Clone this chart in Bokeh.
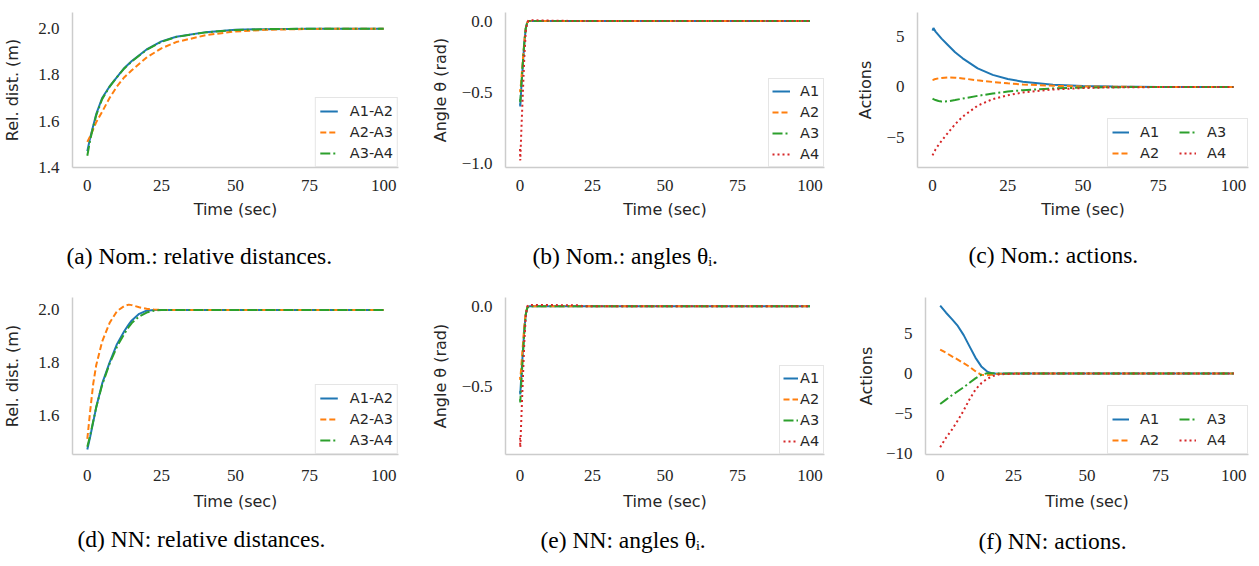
from bokeh.plotting import figure
from bokeh.models import Range1d, FixedTicker, CustomJSTickFormatter, Legend, LegendItem, Title
from bokeh.layouts import row, column
from bokeh.embed import file_html
from bokeh.resources import INLINE

# ---------------- data ----------------
x_ticks = [0, 25, 50, 75, 100]

# (a) nominal: relative distances
t_nom_dist = [0, 1, 2, 3, 5, 7.5, 10, 12.5, 15, 20, 25, 30, 40, 50, 60, 75, 100]
nom_d12 = [1.47, 1.53, 1.58, 1.63, 1.70, 1.75, 1.79, 1.83, 1.86, 1.91, 1.945, 1.965, 1.985, 1.995, 1.998, 2.0, 2.0]
nom_d23 = [1.51, 1.535, 1.565, 1.595, 1.64, 1.70, 1.75, 1.79, 1.82, 1.875, 1.915, 1.942, 1.972, 1.988, 1.995, 1.999, 2.0]
nom_d34 = [1.45, 1.52, 1.575, 1.625, 1.695, 1.748, 1.79, 1.828, 1.858, 1.908, 1.943, 1.964, 1.984, 1.994, 1.998, 2.0, 2.0]

# (b) nominal: angles
t_nom_ang = [0, 0.1, 0.5, 1.0, 1.5, 2.0, 2.5, 3, 5, 10, 20, 50, 100]
nom_th1 = [-0.58, -0.60, -0.45, -0.30, -0.15, -0.05, -0.01, 0.0, 0.0, 0.0, 0.0, 0.0, 0.0]
nom_th2 = [-0.48, -0.50, -0.40, -0.27, -0.14, -0.05, -0.01, 0.0, 0.0, 0.0, 0.0, 0.0, 0.0]
nom_th3 = [-0.55, -0.57, -0.44, -0.29, -0.15, -0.05, -0.01, 0.0, 0.0, 0.0, 0.0, 0.0, 0.0]
nom_th4 = [-0.90, -0.98, -0.75, -0.50, -0.25, -0.07, -0.01, 0.005, 0.005, 0.003, 0.0, 0.0, 0.0]

# (c) nominal: actions
t_nom_act = [0, 0.3, 1, 2, 3, 5, 7.5, 10, 15, 20, 25, 30, 40, 50, 60, 75, 100]
nom_u1 = [5.6, 5.85, 5.5, 5.15, 4.8, 4.2, 3.45, 2.85, 1.85, 1.2, 0.8, 0.52, 0.22, 0.09, 0.04, 0.01, 0.0]
nom_u2 = [0.7, 0.72, 0.8, 0.86, 0.9, 0.95, 0.92, 0.85, 0.66, 0.5, 0.36, 0.25, 0.12, 0.05, 0.02, 0.0, 0.0]
nom_u3 = [-1.15, -1.2, -1.3, -1.4, -1.45, -1.42, -1.3, -1.15, -0.88, -0.65, -0.46, -0.32, -0.15, -0.06, -0.02, 0.0, 0.0]
nom_u4 = [-6.8, -6.6, -6.2, -5.75, -5.35, -4.6, -3.7, -2.95, -1.85, -1.2, -0.82, -0.55, -0.25, -0.1, -0.04, -0.01, 0.0]

# (d) NN: relative distances
t_nn_dist = [0, 1, 2, 3, 5, 7.5, 10, 12.5, 14, 15, 17.5, 20, 22.5, 25, 30, 50, 100]
nn_d12 = [1.47, 1.52, 1.575, 1.63, 1.72, 1.80, 1.87, 1.92, 1.945, 1.96, 1.985, 1.997, 2.0, 2.0, 2.0, 2.0, 2.0]
nn_d23 = [1.51, 1.62, 1.72, 1.79, 1.88, 1.95, 1.995, 2.015, 2.02, 2.018, 2.01, 2.004, 2.001, 2.0, 2.0, 2.0, 2.0]
nn_d34 = [1.48, 1.525, 1.578, 1.63, 1.715, 1.795, 1.86, 1.91, 1.935, 1.95, 1.975, 1.99, 1.997, 2.0, 2.0, 2.0, 2.0]

# (e) NN: angles
t_nn_ang = [0, 0.1, 0.5, 1.0, 1.5, 2.0, 2.5, 3, 5, 10, 20, 22, 50, 100]
nn_th1 = [-0.53, -0.55, -0.42, -0.28, -0.14, -0.05, -0.01, 0.0, 0.0, 0.0, 0.0, 0.0, 0.0, 0.0]
nn_th2 = [-0.44, -0.46, -0.36, -0.24, -0.12, -0.04, -0.01, 0.0, 0.0, 0.0, 0.0, 0.0, 0.0, 0.0]
nn_th3 = [-0.58, -0.60, -0.46, -0.31, -0.16, -0.05, -0.01, 0.0, 0.0, 0.0, 0.0, 0.0, 0.0, 0.0]
nn_th4 = [-0.82, -0.88, -0.68, -0.45, -0.22, -0.06, 0.0, 0.008, 0.008, 0.008, 0.006, 0.0, 0.0, 0.0]

# (f) NN: actions
t_nn_act = [0, 2, 4, 6, 8, 10, 12, 14, 16, 18, 20, 25, 30, 50, 100]
nn_u1 = [8.5, 7.6, 6.8, 5.95, 4.8, 3.4, 2.0, 0.9, 0.25, 0.0, -0.02, 0.0, 0.0, 0.0, 0.0]
nn_u2 = [3.0, 2.6, 2.15, 1.75, 1.3, 0.85, 0.3, -0.15, -0.2, -0.1, -0.03, 0.0, 0.0, 0.0, 0.0]
nn_u3 = [-3.8, -3.25, -2.7, -2.2, -1.7, -1.15, -0.6, -0.15, 0.05, 0.05, 0.02, 0.0, 0.0, 0.0, 0.0]
nn_u4 = [-9.2, -8.0, -7.0, -5.85, -4.6, -3.2, -2.0, -1.2, -0.65, -0.3, -0.1, -0.01, 0.0, 0.0, 0.0]

dist_labels = ["A1-A2", "A2-A3", "A3-A4"]
agent_labels = ["A1", "A2", "A3", "A4"]

# ---------------- style ----------------
COLORS = ["#1f77b4", "#ff7f0e", "#2ca02c", "#d62728"]
DASHES = ["solid", "6 3", "10 3 2 3", "2 3"]
SPINE = "#cccccc"
TXT = "#262626"
SERIF = "'Liberation Serif', serif"
SANS = "'DejaVu Sans', sans-serif"


def fmt(dec):
    return CustomJSTickFormatter(args=dict(d=dec),
                                 code="return tick.toFixed(d).replace('-', '\u2212');")


def panel(W, H, bl, br, bt, bb, yr, yticks, ydec, ylabel, ylab_so, xso, caption, cap_offset, cap_so,
          t, series, labels, leg):
    p = figure(width=W, height=H, x_range=Range1d(-5, 105), y_range=Range1d(*yr),
               output_backend="svg", toolbar_location=None,
               min_border_left=bl, min_border_right=br, min_border_top=bt, min_border_bottom=bb)
    p.xgrid.visible = False
    p.ygrid.visible = False
    p.outline_line_color = None
    p.background_fill_color = "white"
    p.border_fill_color = "white"
    for axs in (p.xaxis, p.yaxis):
        axs.major_tick_line_color = None
        axs.minor_tick_line_color = None
        axs.axis_line_color = SPINE
        axs.axis_line_width = 1.5
        axs.major_label_text_font = SERIF
        axs.major_label_text_font_size = "17px"
        axs.major_label_text_color = TXT
        axs.axis_label_text_font = SANS
        axs.axis_label_text_font_size = "16px"
        axs.axis_label_text_font_style = "normal"
        axs.axis_label_text_color = TXT
    p.xaxis.ticker = FixedTicker(ticks=x_ticks)
    p.xaxis.formatter = fmt(0)
    p.xaxis.axis_label = "Time (sec)"
    p.xaxis.major_label_standoff = xso[0]
    p.xaxis.axis_label_standoff = xso[1]
    p.yaxis.ticker = FixedTicker(ticks=yticks)
    p.yaxis.formatter = fmt(ydec)
    p.yaxis.axis_label = ylabel
    p.yaxis.major_label_standoff = 7
    p.yaxis.axis_label_standoff = ylab_so

    items = []
    for i, (ys, lab) in enumerate(zip(series, labels)):
        r = p.line(t, ys, line_color=COLORS[i], line_width=2, line_dash=DASHES[i])
        items.append(LegendItem(label=lab, renderers=[r]))
    lg = Legend(items=items, location="bottom_right", margin=0,
                ncols=leg.get("ncols", 1),
                padding=leg["padding"], spacing=leg["spacing"],
                glyph_width=leg["glyph_width"], glyph_height=18,
                label_height=18, label_width=leg.get("label_width", 20),
                label_standoff=leg["label_standoff"],
                label_text_font=SANS, label_text_font_size="14.5px",
                label_text_color=TXT,
                border_line_color="#cccccc", border_line_width=1.5,
                background_fill_color="white", background_fill_alpha=1.0)
    p.add_layout(lg)
    p.add_layout(Title(text=caption, align="left", offset=cap_offset,
                       text_font=SERIF, text_font_size="23.5px", text_font_style="normal",
                       text_color="black", standoff=cap_so), "below")
    return p


leg_dist = dict(padding=4, spacing=3, glyph_width=18, label_standoff=12)
leg_ang = dict(padding=3, spacing=3, glyph_width=18, label_standoff=10)
leg_act = dict(padding=4, spacing=3, glyph_width=17, label_standoff=11, label_width=36, ncols=2)
leg_ang2 = dict(padding=3, spacing=3, glyph_width=15, label_standoff=2)

pa = panel(420, 290, 67, 22, 11, 120, (1.399, 2.07), [1.4, 1.6, 1.8, 2.0], 1, "Rel. dist. (m)", 13, (6, 6),
           "(a) Nom.: relative distances.", -6, 39,
           t_nom_dist, [nom_d12, nom_d23, nom_d34], dist_labels, leg_dist)
pb = panel(420, 290, 85, 16, 9, 123, (-1.03, 0.06), [-1.0, -0.5, 0.0], 1, "Angle θ (rad)", 9, (6, 6),
           "(b) Nom.: angles θᵢ.", 27, 39,
           t_nom_ang, [nom_th1, nom_th2, nom_th3, nom_th4], agent_labels, leg_ang)
pc = panel(419, 290, 77, 11, 12, 119, (-8.0, 7.4), [-5, 0, 5], 0, "Actions", 8, (6, 6),
           "(c) Nom.: actions.", 51, 37,
           t_nom_act, [nom_u1, nom_u2, nom_u3, nom_u4], agent_labels, leg_act)
pd_ = panel(420, 276, 67, 22, 3, 109, (1.451, 2.047), [1.6, 1.8, 2.0], 1, "Rel. dist. (m)", 13, (9, 8),
            "(d) NN: relative distances.", 5, 21,
            t_nn_dist, [nn_d12, nn_d23, nn_d34], dist_labels, leg_dist)
pe = panel(420, 276, 85, 16, 7, 111, (-0.925, 0.055), [-0.5, 0.0], 1, "Angle θ (rad)", 9, (9, 8),
           "(e) NN: angles θᵢ.", 35, 23,
           t_nn_ang, [nn_th1, nn_th2, nn_th3, nn_th4], agent_labels, leg_ang2)
pf = panel(419, 276, 85, 11, 5, 110, (-10.1, 9.5), [-10, -5, 0, 5], 0, "Actions", 7, (9, 8),
           "(f) NN: actions.", 53, 25,
           t_nn_act, [nn_u1, nn_u2, nn_u3, nn_u4], agent_labels, leg_act)

layout = column(row(pa, pb, pc), row(pd_, pe, pf))
open("out.html", "w").write(file_html(layout, INLINE))
